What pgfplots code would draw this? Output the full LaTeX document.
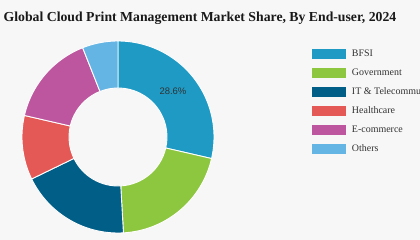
\documentclass[border=0pt]{standalone}
\usepackage{fontspec}
\setmainfont{Liberation Serif}
\newfontfamily\labelfont{Liberation Sans}
\usepackage{pgfplots}
\pgfplotsset{compat=1.18}
\usepackage{pgfplotstable}
\definecolor{bg}{HTML}{F7F7F7}
\definecolor{cBFSI}{HTML}{1E9AC4}
\definecolor{cGov}{HTML}{8DC63F}
\definecolor{cIT}{HTML}{005E87}
\definecolor{cHealth}{HTML}{E45856}
\definecolor{cEcom}{HTML}{BD569E}
\definecolor{cOther}{HTML}{64B4E4}

% market share by end-user, 2024 (%)
\pgfplotstableread{
seg value
BFSI 28.6
Government 20.5
IT 18.7
Healthcare 10.8
Ecommerce 15.4
Others 6.0
}\sharedata

% #1 cumulative start (%), #2 cumulative end (%), #3 colour, #4 legend text
\newcommand{\sector}[4]{%
  \pgfmathsetmacro{\angA}{90-3.6*(#1)}%
  \pgfmathsetmacro{\angB}{90-3.6*(#2)}%
  \pgfmathsetmacro{\ixA}{118+49*cos(\angA)}%
  \pgfmathsetmacro{\iyA}{103+49*sin(\angA)}%
  \edef\doit{\noexpand\addplot[fill=#3, draw=white, line width=0.9pt, line join=round, domain=\angB:\angA, samples=90, variable=\noexpand\t]
    ({118+96*cos(\noexpand\t)},{103+96*sin(\noexpand\t)}) -- (\ixA,\iyA) arc[start angle=\angA, end angle=\angB, radius=49bp] -- cycle;}%
  \doit
  \addlegendentry{#4}%
}

\begin{document}
\begin{tikzpicture}
\begin{axis}[
  width=420bp, height=240bp, scale only axis,
  xmin=0, xmax=420, ymin=0, ymax=240,
  hide axis, clip=false,
  legend cell align=left,
  legend image code/.code={\fill[#1, draw=none] (0bp,-5bp) rectangle (34bp,5bp);},
  legend style={at={(312/420,191/240)}, anchor=north west, draw=none, fill=none,
    inner sep=0pt, outer sep=0pt, row sep=9bp, column sep=0pt,
    font=\fontsize{10}{12}\selectfont, text=black!80,
    nodes={inner xsep=6bp, inner ysep=0pt, text height=7bp, text depth=3bp}},
]
\fill[bg] (0,0) rectangle (420,240);
\pgfplotstablegetelem{0}{value}\of\sharedata \let\vA\pgfplotsretval
\pgfplotstablegetelem{1}{value}\of\sharedata \let\vB\pgfplotsretval
\pgfplotstablegetelem{2}{value}\of\sharedata \let\vC\pgfplotsretval
\pgfplotstablegetelem{3}{value}\of\sharedata \let\vD\pgfplotsretval
\pgfplotstablegetelem{4}{value}\of\sharedata \let\vE\pgfplotsretval
\pgfplotstablegetelem{5}{value}\of\sharedata \let\vF\pgfplotsretval
\pgfmathsetmacro{\cA}{\vA}
\pgfmathsetmacro{\cB}{\cA+\vB}
\pgfmathsetmacro{\cC}{\cB+\vC}
\pgfmathsetmacro{\cD}{\cC+\vD}
\pgfmathsetmacro{\cE}{\cD+\vE}
\sector{0}{\cA}{cBFSI}{BFSI}
\sector{\cA}{\cB}{cGov}{Government}
\sector{\cB}{\cC}{cIT}{IT \& Telecommunication}
\sector{\cC}{\cD}{cHealth}{Healthcare}
\sector{\cD}{\cE}{cEcom}{E-commerce}
\sector{\cE}{100}{cOther}{Others}
\node[font=\labelfont\fontsize{9.5}{11}\selectfont, text=black!80] at (173,148.5) {28.6\%};
\node[anchor=base west, inner sep=0pt, font=\bfseries\fontsize{13.8}{16}\selectfont, text=black!90] at (3.5,219) {Global Cloud Print Management Market Share, By End-user, 2024};
\end{axis}
\pgfresetboundingbox
\path[use as bounding box] (current axis.south west) rectangle (current axis.north east);
\end{tikzpicture}
\end{document}
